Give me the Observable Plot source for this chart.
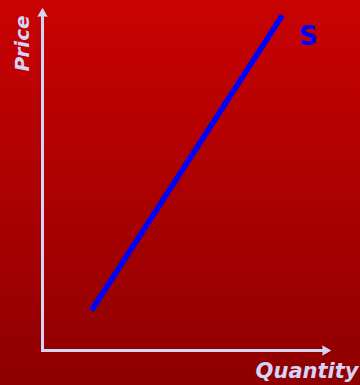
<!DOCTYPE html>
<html>
<head>
<meta charset="utf-8">
<script src="https://cdn.jsdelivr.net/npm/d3@7"></script>
<script src="https://cdn.jsdelivr.net/npm/@observablehq/plot@0.6"></script>
<style>
  html, body { margin: 0; padding: 0; background: #8e0000; }
  #chart svg { display: block; }
</style>
</head>
<body>
<div id="chart"></div>
<script>
// Supply curve: two end points (quantity, price) on a 0–10 scale
const supplyQuantity = [1.7, 8.33];
const supplyPrice = [1.17, 9.8];
const supplyLabel = "S";

// Axis extents and titles
const axisMax = 10;
const xTitle = "Quantity";
const yTitle = "Price";

const supply = supplyQuantity.map((q, i) => ({q, p: supplyPrice[i]}));
const axisColor = "#d4d4f6";
const font = "DejaVu Sans, Verdana, sans-serif";

const chart = Plot.plot({
  width: 360,
  height: 385,
  marginLeft: 42,
  marginRight: 30,
  marginTop: 8,
  marginBottom: 35,
  style: {background: "linear-gradient(#c90202, #8e0000)", overflow: "visible"},
  x: {domain: [0, axisMax], axis: null},
  y: {domain: [0, axisMax], axis: null},
  marks: [
    // axis shafts (stopped short of the tip so the heads stay pointed)
    Plot.arrow([{x1: 0, y1: 0, x2: axisMax, y2: 0}, {x1: 0, y1: 0, x2: 0, y2: axisMax}], {
      x1: "x1", y1: "y1", x2: "x2", y2: "y2", headLength: 0, insetEnd: 6,
      stroke: axisColor, strokeWidth: 3, strokeLinecap: "square"
    }),
    // arrow heads
    Plot.vector([{x: axisMax, y: 0, a: 90}, {x: 0, y: axisMax, a: 0}], {
      x: "x", y: "y", rotate: "a", shape: "spike", anchor: "end",
      length: 8, r: 4.5, fill: axisColor, stroke: axisColor, strokeWidth: 1
    }),
    // supply curve
    Plot.line(supply, {
      x: "q", y: "p", stroke: "#0000ff", strokeWidth: 5.5, strokeLinecap: "butt"
    }),
    Plot.text([supply[supply.length - 1]], {
      x: "q", y: "p", text: () => supplyLabel, dx: 26, dy: 21,
      fill: "#0000ff", fontSize: 26, fontWeight: "bold", fontFamily: font
    }),
    // axis titles
    Plot.text([{x: 0, y: axisMax}], {
      x: "x", y: "y", text: () => yTitle, rotate: -90, dx: -20, dy: 35,
      fill: axisColor, fontSize: 20, fontWeight: "bold", fontStyle: "italic", fontFamily: font
    }),
    Plot.text([{x: axisMax, y: 0}], {
      x: "x", y: "y", text: () => xTitle, textAnchor: "end", dx: 28, dy: 21,
      fill: axisColor, fontSize: 21, fontWeight: "bold", fontStyle: "italic", fontFamily: font
    })
  ]
});
document.getElementById("chart").append(chart);
</script>
</body>
</html>
